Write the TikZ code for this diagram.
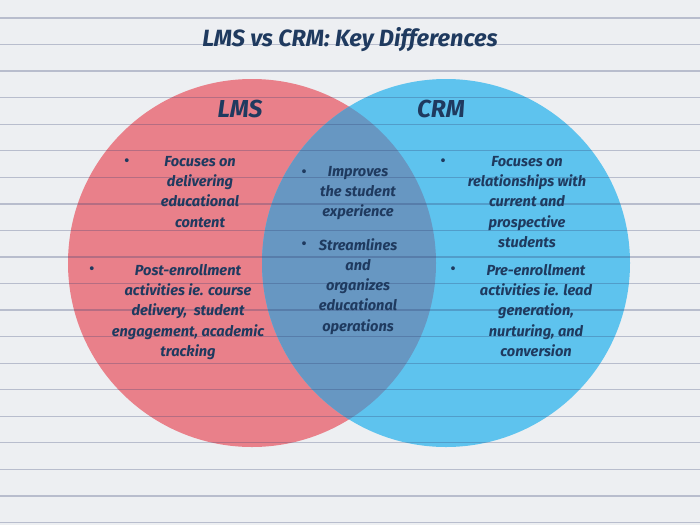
\documentclass[tikz,border=0pt]{standalone}
\usepackage{fontspec}
\setmainfont{Fira Sans}
\definecolor{bgc}{HTML}{EDEFF2}
\definecolor{rulec}{HTML}{303C6E}
\definecolor{lmsc}{HTML}{E9808A}
\definecolor{crmc}{HTML}{5EC3EE}
\definecolor{bothc}{HTML}{6797C2}
\definecolor{inkc}{HTML}{1F3A5F}
\begin{document}
\begin{tikzpicture}[x=1pt,y=-1pt,
  txt/.style={text=inkc,font=\fontsize{14.6}{20.3}\selectfont\bfseries\itshape,align=center,inner sep=0pt},
  head/.style={text=inkc,font=\fontsize{24.5}{28}\selectfont\bfseries\itshape,inner sep=0pt},
  dot/.style={text=inkc,font=\fontsize{17}{17}\selectfont,inner sep=0pt},
  rule/.style={draw=rulec,line width=1.3pt,opacity=0.28}]
\useasboundingbox (0,0) rectangle (700,525);
\fill[bgc] (0,0) rectangle (700,525);
% circles
\fill[lmsc] (252,263) circle[radius=184];
\fill[crmc] (446,263) circle[radius=184];
\begin{scope}
\clip (252,263) circle[radius=184];
\fill[bothc] (446,263) circle[radius=184];
\end{scope}
% ruled lines
\foreach \k in {0,...,19} {
  \draw[rule] (0,{18+26.55*\k}) -- (700,{18+26.55*\k});
}
% title
\node[head,font=\fontsize{23.5}{28}\selectfont\bfseries\itshape] (title) at (350,40) {LMS vs CRM: Key Differences};
\node[head] (lms) at (240,109) {LMS};
\node[head] (crm) at (441,109) {CRM};
% left
\node[dot] (b1) at (127,163) {•};
\node[txt,anchor=north] (l1) at (200,156) {Focuses on\\delivering\\educational\\content};
\node[dot] (b2) at (92,271) {•};
\node[txt,anchor=north] (l2) at (188,264) {Post-enrollment\\activities ie. course\\delivery,\ \ student\\engagement, academic\\tracking};
% middle
\node[dot] (b3) at (304,174) {•};
\node[txt,anchor=north] (m1) at (358,166) {Improves\\the student\\experience};
\node[dot] (b4) at (304,246) {•};
\node[txt,anchor=north] (m2) at (358,238) {Streamlines\\and\\organizes\\educational\\operations};
% right
\node[dot] (b5) at (443,163) {•};
\node[txt,anchor=north] (r1) at (527,156) {Focuses on\\relationships with\\current and\\prospective\\students};
\node[dot] (b6) at (453,271) {•};
\node[txt,anchor=north] (r2) at (536,264) {Pre-enrollment\\activities ie. lead\\generation,\\nurturing, and\\conversion};
\end{tikzpicture}
\end{document}
